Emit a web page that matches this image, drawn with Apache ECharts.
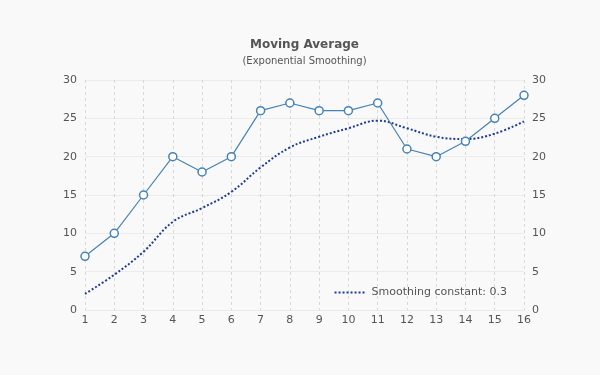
<!DOCTYPE html>
<html><head><meta charset="utf-8">
<script src="https://cdn.jsdelivr.net/npm/echarts@6/dist/echarts.min.js"></script>
<style>html,body{margin:0;padding:0;background:#f9f9f9;}#c{width:600px;height:375px;}</style>
</head><body><div id="c"></div>
<script>
const xValues = [1,2,3,4,5,6,7,8,9,10,11,12,13,14,15,16];
const rawValues = [7,10,15,20,18,20,26,27,26,26,27,21,20,22,25,28];
const smoothValues = [2.1,4.6,7.6,11.5,13.3,15.4,18.6,21.2,22.6,23.7,24.7,23.7,22.6,22.3,23.0,24.6];
const legendName = 'Smoothing constant: 0.3';
const font = 'DejaVu Sans, Verdana, sans-serif';
const chart = echarts.init(document.getElementById('c'));
const yAxisCommon = {
  type: 'value', min: 0, max: 30, interval: 5,
  axisLine: {show: false}, axisTick: {show: false},
  axisLabel: {color: '#555', fontSize: 11, fontFamily: font, margin: 8},
  splitLine: {show: true, lineStyle: {color: '#ececec', width: 1}}
};
chart.setOption({
  backgroundColor: '#f9f9f9',
  animation: false,
  title: {
    text: 'Moving Average', subtext: '(Exponential Smoothing)',
    left: 299.5, textAlign: 'center', top: 34, itemGap: 5,
    textStyle: {fontSize: 12, fontWeight: 'bold', color: '#555', fontFamily: font},
    subtextStyle: {fontSize: 10, color: '#555', fontFamily: font}
  },
  legend: {
    data: [legendName], right: 88, top: 282, itemWidth: 32, itemHeight: 10, itemGap: 4,
    itemStyle: {opacity: 0},
    textStyle: {color: '#555', fontSize: 11, fontFamily: font}
  },
  grid: {left: 85, right: 76, top: 80, bottom: 65},
  xAxis: {
    type: 'value', min: 1, max: 16, interval: 1,
    axisLine: {show: true, lineStyle: {color: '#eaeaea'}}, axisTick: {show: false},
    axisLabel: {color: '#555', fontSize: 11, fontFamily: font, margin: 5},
    splitLine: {show: true, lineStyle: {color: '#d8d8d8', type: [3, 3], width: 1}}
  },
  yAxis: [
    Object.assign({position: 'left'}, yAxisCommon),
    Object.assign({position: 'right'}, yAxisCommon, {splitLine: {show: false}})
  ],
  series: [
    {
      type: 'line', name: 'Data',
      data: xValues.map((x, i) => [x, rawValues[i]]),
      symbol: 'circle', symbolSize: 8,
      itemStyle: {color: '#fff', borderColor: '#4682b4', borderWidth: 1.5},
      lineStyle: {color: '#4682b4', width: 1.2},
      z: 3
    },
    {
      type: 'line', name: legendName,
      data: xValues.map((x, i) => [x, smoothValues[i]]),
      smooth: 0.4, symbol: 'none',
      itemStyle: {color: '#1f3a93'},
      lineStyle: {color: '#1f3a93', width: 2, type: [2, 2]},
      z: 2
    }
  ]
});
</script></body></html>
